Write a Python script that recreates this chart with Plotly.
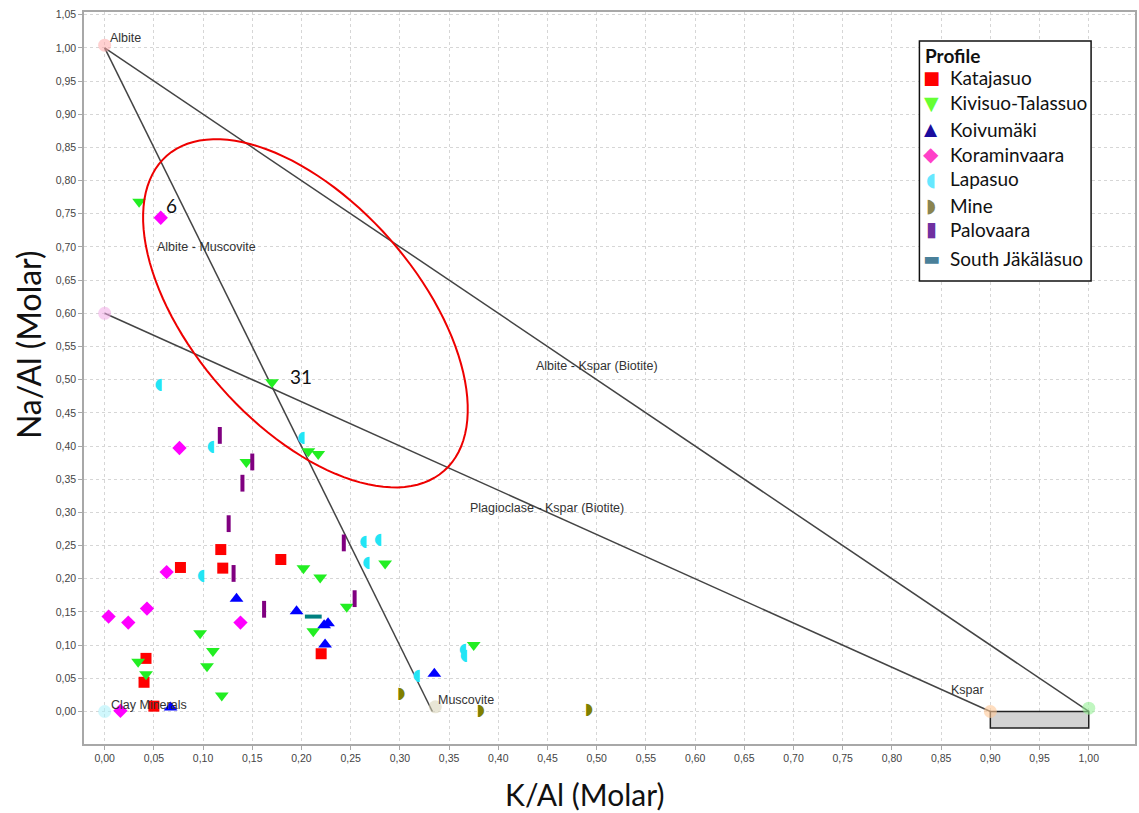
import numpy as np
import plotly.graph_objects as go

W, H = 1139, 813
ML, MR, MT, MB = 84, 2, 12, 69

# K/Al and Na/Al (molar) per profile
katajasuo_k = [0.077, 0.118, 0.120, 0.179, 0.220, 0.042, 0.040, 0.050]
katajasuo_na = [0.217, 0.244, 0.216, 0.229, 0.087, 0.080, 0.044, 0.008]

kivisuo_k = [0.035, 0.170, 0.207, 0.217, 0.144, 0.202, 0.219, 0.285, 0.246,
             0.375, 0.212, 0.097, 0.110, 0.104, 0.034, 0.042, 0.119]
kivisuo_na = [0.768, 0.496, 0.392, 0.388, 0.376, 0.216, 0.202, 0.223, 0.158,
              0.100, 0.121, 0.118, 0.091, 0.068, 0.075, 0.056, 0.024]

koivumaki_k = [0.134, 0.195, 0.223, 0.227, 0.224, 0.335, 0.067]
koivumaki_na = [0.170, 0.151, 0.130, 0.133, 0.101, 0.057, 0.006]

koraminvaara_k = [0.057, 0.076, 0.063, 0.043, 0.004, 0.024, 0.138, 0.016]
koraminvaara_na = [0.744, 0.397, 0.210, 0.155, 0.143, 0.134, 0.134, 0.001]

lapasuo_k = [0.055, 0.108, 0.200, 0.098, 0.263, 0.278, 0.266, 0.317, 0.364, 0.365]
lapasuo_na = [0.492, 0.398, 0.412, 0.204, 0.256, 0.258, 0.223, 0.054, 0.092, 0.083]

mine_k = [0.301, 0.382, 0.492]
mine_na = [0.026, 0.000, 0.002]

palovaara_k = [0.117, 0.150, 0.140, 0.126, 0.131, 0.162, 0.243, 0.254]
palovaara_na = [0.416, 0.376, 0.344, 0.283, 0.208, 0.154, 0.254, 0.170]

south_k = [0.212]
south_na = [0.143]

# Mineral end-member positions
mineral_k = [0.0, 0.0, 0.0, 0.336, 0.900, 1.000]
mineral_na = [1.004, 0.600, 0.000, 0.007, 0.000, 0.005]
mineral_colors = ["rgba(255,170,170,0.55)", "rgba(240,170,230,0.55)",
                  "rgba(170,240,250,0.55)", "rgba(215,210,180,0.55)",
                  "rgba(255,200,150,0.6)", "rgba(150,240,150,0.6)"]

# Tie lines between end-members
tie_x0 = [0.0, 0.0, 0.0]
tie_y0 = [1.0, 1.0, 0.6]
tie_x1 = [1.0, 0.333, 0.9]
tie_y1 = [0.0, 0.0, 0.0]

# Labels for the diagram
label_text = ["Albite", "Albite - Muscovite", "Albite - Kspar (Biotite)",
              "Plagioclase - Kspar (Biotite)", "Muscovite", "Kspar", "Clay Minerals"]
label_x = [0.003, 0.051, 0.436, 0.369, 0.337, 0.858, 0.004]
label_y = [1.015, 0.700, 0.520, 0.307, 0.018, 0.033, 0.0105]

sample_ids = ["6", "31"]
sample_id_x = [0.060, 0.186]
sample_id_y = [0.762, 0.505]

legend_names = ["Katajasuo", "Kivisuo-Talassuo", "Koivumäki", "Koraminvaara",
                "Lapasuo", "Mine", "Palovaara", "South Jäkäläsuo"]

fig = go.Figure()

# end-member markers
fig.add_trace(go.Scatter(x=mineral_k, y=mineral_na, mode="markers",
                         marker=dict(size=13, color=mineral_colors), hoverinfo="skip"))

fig.add_trace(go.Scatter(x=katajasuo_k, y=katajasuo_na, mode="markers", name=legend_names[0],
                         marker=dict(symbol="square", size=11, color="#ff0000")))
fig.add_trace(go.Scatter(x=kivisuo_k, y=kivisuo_na, mode="markers", name=legend_names[1],
                         marker=dict(symbol="triangle-down", size=12, color="#22ee22")))
fig.add_trace(go.Scatter(x=koivumaki_k, y=koivumaki_na, mode="markers", name=legend_names[2],
                         marker=dict(symbol="triangle-up", size=12, color="#0000ff")))
fig.add_trace(go.Scatter(x=koraminvaara_k, y=koraminvaara_na, mode="markers", name=legend_names[3],
                         marker=dict(symbol="diamond", size=11, color="#ff00ff")))
fig.add_trace(go.Scatter(x=lapasuo_k, y=lapasuo_na, mode="text", name=legend_names[4],
                         text=["\u25D6"] * len(lapasuo_k),
                         textfont=dict(family="DejaVu Sans", size=16, color="#22e5f5")))
fig.add_trace(go.Scatter(x=mine_k, y=mine_na, mode="text", name=legend_names[5],
                         text=["\u25D7"] * len(mine_k),
                         textfont=dict(family="DejaVu Sans", size=16, color="#808000")))
fig.add_trace(go.Scatter(x=palovaara_k, y=palovaara_na, mode="markers", name=legend_names[6],
                         marker=dict(symbol="line-ns", size=12,
                                     line=dict(width=4, color="#800080"))))
fig.add_trace(go.Scatter(x=south_k, y=south_na, mode="markers", name=legend_names[7],
                         marker=dict(symbol="line-ew", size=12,
                                     line=dict(width=4, color="#008080"))))

shapes = []
for x0, y0, x1, y1 in zip(tie_x0, tie_y0, tie_x1, tie_y1):
    shapes.append(dict(type="line", xref="x", yref="y", x0=x0, y0=y0, x1=x1, y1=y1,
                       line=dict(color="#444444", width=1.5), layer="between"))

# K-feldspar box below the axis zero line
shapes.append(dict(type="rect", xref="x", yref="y", x0=0.9, x1=1.0, y0=-0.025, y1=0.0,
                   fillcolor="#d3d3d3", line=dict(color="#222222", width=1.5), layer="between"))

# Highlight ellipse around the albite-rich samples
c = np.array([0.2040, 0.600])
u = np.array([0.1409, -0.2374])
v = np.array([0.0858, 0.1117])
t = np.linspace(0, 2 * np.pi, 121)
pts = c[None, :] + np.cos(t)[:, None] * u[None, :] + np.sin(t)[:, None] * v[None, :]
path = "M " + " L ".join(f"{px:.5f},{py:.5f}" for px, py in pts) + " Z"
shapes.append(dict(type="path", xref="x", yref="y", path=path,
                   line=dict(color="#ee0000", width=2), layer="above"))

annotations = []
for txt, x, y in zip(label_text, label_x, label_y):
    annotations.append(dict(x=x, y=y, xref="x", yref="y", text=txt, showarrow=False,
                            xanchor="left", yanchor="middle",
                            font=dict(family="Liberation Sans", size=12.5, color="#333333")))
for txt, x, y in zip(sample_ids, sample_id_x, sample_id_y):
    annotations.append(dict(x=x, y=y, xref="x", yref="y", text=txt, showarrow=False,
                            xanchor="left", yanchor="middle",
                            font=dict(family="Lato", size=19, color="#111111")))

PW = W - ML - MR
PH = H - MT - MB


def paper_x(p):
    return (p - ML) / PW


def paper_y(p):
    return (H - MB - p) / PH


# Axis titles
annotations.append(dict(x=paper_x(585), y=paper_y(794), xref="paper", yref="paper",
                        text="K/Al (Molar)", showarrow=False, xanchor="center", yanchor="middle",
                        font=dict(family="Lato", size=30, color="#111111")))
annotations.append(dict(x=paper_x(28), y=paper_y(345), xref="paper", yref="paper",
                        text="Na/Al (Molar)", showarrow=False, xanchor="center", yanchor="middle",
                        textangle=-90, font=dict(family="Lato", size=32, color="#111111")))

# Legend box
shapes.append(dict(type="rect", xref="paper", yref="paper",
                   x0=paper_x(921), x1=paper_x(1093), y0=paper_y(281), y1=paper_y(41),
                   fillcolor="white", line=dict(color="#111111", width=1.5), layer="above"))
annotations.append(dict(x=paper_x(925), y=paper_y(55), xref="paper", yref="paper",
                        text="<b>Profile</b>", showarrow=False, xanchor="left", yanchor="middle",
                        font=dict(family="Lato", size=19, color="#111111")))
legend_glyphs = ["\u25A0", "\u25BC", "\u25B2", "\u25C6", "\u25D6", "\u25D7", "\u25AE", "\u25AC"]
legend_colors = ["#ff0000", "#66ff33", "#1a0d9e", "#ff40c8", "#66e8ff", "#8a8450", "#7030a0", "#4a8099"]
legend_sizes = [18, 19, 17, 20, 19, 19, 20, 18]
legend_rows = [78, 103, 129, 154, 179, 205, 229, 258]
for name, g, col, sz, row in zip(legend_names, legend_glyphs, legend_colors, legend_sizes, legend_rows):
    annotations.append(dict(x=paper_x(933), y=paper_y(row), xref="paper", yref="paper",
                            text=g, showarrow=False, xanchor="center", yanchor="middle",
                            font=dict(family="DejaVu Sans", size=sz, color=col)))
    annotations.append(dict(x=paper_x(950), y=paper_y(row), xref="paper", yref="paper",
                            text=name, showarrow=False, xanchor="left", yanchor="middle",
                            font=dict(family="Lato", size=19, color="#111111")))

axis_common = dict(
    dtick=0.05, tick0=0, tickformat=".2f",
    showgrid=True, gridcolor="#d6d6d6", griddash="dot", gridwidth=1,
    zeroline=False, showline=True, linecolor="#a8a8a8", linewidth=1.5, mirror=True,
    ticks="outside", ticklen=4, tickcolor="#a8a8a8",
    tickfont=dict(family="Liberation Sans", size=10.5, color="#444444"),
)

fig.update_layout(
    width=W, height=H,
    margin=dict(l=ML, r=MR, t=MT, b=MB, pad=0),
    plot_bgcolor="white", paper_bgcolor="white",
    separators=", ",
    showlegend=False,
    xaxis=dict(range=[-0.021, 1.047], **axis_common),
    yaxis=dict(range=[-0.049, 1.054], **axis_common),
    shapes=shapes,
    annotations=annotations,
)

fig.write_html("out.html")
